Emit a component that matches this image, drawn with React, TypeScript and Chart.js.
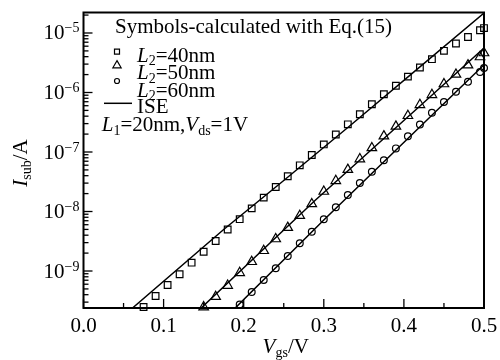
import React, { useEffect, useRef } from 'react';
import { Chart, registerables } from 'chart.js';

Chart.register(...registerables);

const SERIF = '"Liberation Serif", "Times New Roman", Times, serif';
const MAIN = 21;
const SMALL = 14;

// Symbols: L2 = 40 nm (squares)
const sqVgs = [0.075, 0.09, 0.105, 0.12, 0.135, 0.15, 0.165, 0.18, 0.195, 0.21, 0.225, 0.24, 0.255, 0.27, 0.285, 0.3, 0.315, 0.33, 0.345, 0.36, 0.375, 0.39, 0.405, 0.42, 0.435, 0.45, 0.465, 0.48, 0.495, 0.5];
const sqIsub = [2.48e-10, 3.8e-10, 5.82e-10, 8.81e-10, 1.38e-9, 2.11e-9, 3.19e-9, 4.98e-9, 7.43e-9, 1.13e-8, 1.71e-8, 2.58e-8, 3.91e-8, 5.97e-8, 8.91e-8, 1.34e-7, 1.97e-7, 2.92e-7, 4.31e-7, 6.34e-7, 9.33e-7, 1.3e-6, 1.85e-6, 2.63e-6, 3.63e-6, 5.02e-6, 6.67e-6, 8.57e-6, 1.11e-5, 1.21e-5];

// Symbols: L2 = 50 nm (triangles)
const triVgs = [0.15, 0.165, 0.18, 0.195, 0.21, 0.225, 0.24, 0.255, 0.27, 0.285, 0.3, 0.315, 0.33, 0.345, 0.36, 0.375, 0.39, 0.405, 0.42, 0.435, 0.45, 0.465, 0.48, 0.495, 0.5];
const triIsub = [2.48e-10, 3.7e-10, 5.7e-10, 9.33e-10, 1.43e-9, 2.19e-9, 3.45e-9, 5.35e-9, 8.5e-9, 1.34e-8, 2.17e-8, 3.28e-8, 5.06e-8, 7.62e-8, 1.17e-7, 1.85e-7, 2.7e-7, 4.07e-7, 6.21e-7, 9.14e-7, 1.39e-6, 2.01e-6, 2.88e-6, 3.95e-6, 4.61e-6];

// Symbols: L2 = 60 nm (circles)
const cirVgs = [0.195, 0.21, 0.225, 0.24, 0.255, 0.27, 0.285, 0.3, 0.315, 0.33, 0.345, 0.36, 0.375, 0.39, 0.405, 0.42, 0.435, 0.45, 0.465, 0.48, 0.495, 0.5];
const cirIsub = [2.74e-10, 4.44e-10, 7.06e-10, 1.11e-9, 1.79e-9, 2.92e-9, 4.58e-9, 7.4e-9, 1.18e-8, 1.89e-8, 3.01e-8, 4.67e-8, 7.26e-8, 1.15e-7, 1.84e-7, 2.9e-7, 4.58e-7, 6.92e-7, 1.03e-6, 1.51e-6, 2.21e-6, 2.58e-6];

// ISE simulation lines
const ise40Vgs = [0.0612, 0.175, 0.25, 0.333, 0.42, 0.5];
const ise40Isub = [2.39e-10, 4.98e-9, 3.32e-8, 2.79e-7, 2.69e-6, 2.17e-5];
const ise50Vgs = [0.1465, 0.289, 0.4242, 0.5];
const ise50Isub = [2.36e-10, 1.53e-8, 6.67e-7, 5.6e-6];
const ise60Vgs = [0.189, 0.3, 0.5];
const ise60Isub = [2.36e-10, 7.2e-9, 2.93e-6];

const xTickValues = [0, 0.1, 0.2, 0.3, 0.4, 0.5];
const xTickLabels = ['0.0', '0.1', '0.2', '0.3', '0.4', '0.5'];
const yDecades = [-9, -8, -7, -6, -5];
const legendLengths = ['40nm', '50nm', '60nm'];
const X_MIN = 0;
const X_MAX = 0.5;
const Y_MIN = 2.39e-10;
const Y_MAX = 2.21e-5;

type Seg = { t: string; i?: boolean; sub?: boolean; sup?: boolean };

function fontOf(s: Seg) {
  const size = s.sub || s.sup ? SMALL : MAIN;
  return `${s.i ? 'italic ' : ''}${size}px ${SERIF}`;
}
function richWidth(ctx: CanvasRenderingContext2D, segs: Seg[]) {
  let w = 0;
  for (const s of segs) {
    ctx.font = fontOf(s);
    w += ctx.measureText(s.t).width;
  }
  return w;
}
function drawRich(ctx: CanvasRenderingContext2D, segs: Seg[], x: number, y: number) {
  let cx = x;
  for (const s of segs) {
    ctx.font = fontOf(s);
    const dy = s.sub ? 3.5 : s.sup ? -7 : 0;
    ctx.fillText(s.t, cx, y + dy);
    cx += ctx.measureText(s.t).width;
  }
}
function marker(ctx: CanvasRenderingContext2D, style: string, x: number, y: number, r: number) {
  ctx.beginPath();
  if (style === 'rect') {
    ctx.rect(x - r, y - r, 2 * r, 2 * r);
  } else if (style === 'triangle') {
    ctx.moveTo(x, y - r);
    ctx.lineTo(x + r * 0.866, y + r / 2);
    ctx.lineTo(x - r * 0.866, y + r / 2);
    ctx.closePath();
  } else {
    ctx.arc(x, y, r, 0, Math.PI * 2);
  }
  ctx.stroke();
}

const decorPlugin = {
  id: 'decor',
  afterDraw(chart: any) {
    const ctx: CanvasRenderingContext2D = chart.ctx;
    const a = chart.chartArea;
    const xs = chart.scales.x;
    const ys = chart.scales.y;
    ctx.save();
    ctx.strokeStyle = '#000';
    ctx.fillStyle = '#000';
    ctx.textBaseline = 'alphabetic';
    ctx.textAlign = 'left';

    // frame
    ctx.lineWidth = 2;
    ctx.strokeRect(a.left, a.top, a.right - a.left, a.bottom - a.top);

    // x ticks (inward)
    ctx.lineWidth = 1.3;
    for (let k = 0; k <= 10; k++) {
      const px = xs.getPixelForValue(k / 20);
      const len = k % 2 === 0 ? 9 : 5;
      ctx.beginPath();
      ctx.moveTo(px, a.bottom);
      ctx.lineTo(px, a.bottom - len);
      ctx.stroke();
    }
    // y ticks (inward, log minor)
    for (let d = -10; d <= -5; d++) {
      for (let m = 1; m <= 9; m++) {
        const val = m * Math.pow(10, d);
        if (val < Y_MIN || val > Y_MAX) continue;
        const py = ys.getPixelForValue(val);
        const len = m === 1 ? 9 : 5;
        ctx.beginPath();
        ctx.moveTo(a.left, py);
        ctx.lineTo(a.left + len, py);
        ctx.stroke();
      }
    }

    // x tick labels
    xTickValues.forEach((v, i) => {
      const px = xs.getPixelForValue(v);
      const segs: Seg[] = [{ t: xTickLabels[i] }];
      const w = richWidth(ctx, segs);
      drawRich(ctx, segs, px - w / 2, a.bottom + 24);
    });
    // y tick labels
    yDecades.forEach((d) => {
      const py = ys.getPixelForValue(Math.pow(10, d));
      const segs: Seg[] = [{ t: '10' }, { t: '\u2212' + Math.abs(d), sup: true }];
      const w = richWidth(ctx, segs);
      drawRich(ctx, segs, a.left - 4 - w, py + 6.5);
    });

    // x axis title
    const xt: Seg[] = [{ t: 'V', i: true }, { t: 'gs', sub: true }, { t: '/V' }];
    const xw = richWidth(ctx, xt);
    drawRich(ctx, xt, (a.left + a.right) / 2 + 2 - xw / 2, 353);

    // y axis title
    const yt: Seg[] = [{ t: 'I', i: true }, { t: 'sub', sub: true }, { t: '/A' }];
    const yw = richWidth(ctx, yt);
    ctx.save();
    ctx.translate(27, 163);
    ctx.rotate(-Math.PI / 2);
    drawRich(ctx, yt, -yw / 2, 0);
    ctx.restore();

    // legend
    drawRich(ctx, [{ t: 'Symbols-calculated with Eq.(15)' }], 115, 33);
    const rowBase = [61.7, 79.3, 96.7];
    const styles = ['rect', 'triangle', 'circle'];
    const mY = [51.7, 65.4, 81];
    const mR = [2.5, 4.8, 2.5];
    ctx.lineWidth = 1.2;
    legendLengths.forEach((len, i) => {
      marker(ctx, styles[i], 117, mY[i], mR[i]);
      drawRich(ctx, [{ t: 'L', i: true }, { t: '2', sub: true }, { t: '=' + len }], 137, rowBase[i]);
    });
    ctx.lineWidth = 1.5;
    ctx.beginPath();
    ctx.moveTo(104, 103.3);
    ctx.lineTo(132, 103.3);
    ctx.stroke();
    drawRich(ctx, [{ t: 'ISE' }], 137, 113.3);
    drawRich(ctx, [
      { t: 'L', i: true }, { t: '1', sub: true }, { t: '=20nm,' },
      { t: 'V', i: true }, { t: 'ds', sub: true }, { t: '=1V' },
    ], 101.7, 131);
    ctx.restore();
  },
};

function zip(xs: number[], ys: number[]) {
  return xs.map((x, i) => ({ x, y: ys[i] }));
}

export default function App() {
  const ref = useRef<HTMLCanvasElement | null>(null);
  useEffect(() => {
    if (!ref.current) return;
    const lineDs = (label: string, xs: number[], ys: number[]) => ({
      label,
      data: zip(xs, ys),
      showLine: true,
      borderColor: '#000',
      borderWidth: 1.5,
      pointRadius: 0,
      tension: 0,
      fill: false,
    });
    const symDs = (label: string, xs: number[], ys: number[], style: string, r: number) => ({
      label,
      data: zip(xs, ys),
      showLine: false,
      pointStyle: style,
      pointRadius: r,
      pointBorderColor: '#000',
      pointBackgroundColor: 'rgba(0,0,0,0)',
      pointBorderWidth: 1.2,
      borderColor: '#000',
      backgroundColor: 'rgba(0,0,0,0)',
      borderWidth: 1.2,
      clip: false,
    });
    const chart = new Chart(ref.current, {
      type: 'scatter',
      data: {
        datasets: [
          lineDs('ISE 40', ise40Vgs, ise40Isub),
          lineDs('ISE 50', ise50Vgs, ise50Isub),
          lineDs('ISE 60', ise60Vgs, ise60Isub),
          symDs('L2=40nm', sqVgs, sqIsub, 'rect', 4.7),
          symDs('L2=50nm', triVgs, triIsub, 'triangle', 5.5),
          symDs('L2=60nm', cirVgs, cirIsub, 'circle', 3.4),
        ] as any,
      },
      options: {
        responsive: false,
        animation: false,
        events: [],
        layout: { padding: { left: 0, right: 16, top: 12.5, bottom: 0 } },
        plugins: { legend: { display: false }, tooltip: { enabled: false } },
        scales: {
          x: {
            type: 'linear',
            min: X_MIN,
            max: X_MAX,
            ticks: { display: false },
            grid: { display: false },
            border: { display: false },
            afterFit: (s: any) => { s.height = 52; },
          },
          y: {
            type: 'logarithmic',
            min: Y_MIN,
            max: Y_MAX,
            ticks: { display: false },
            grid: { display: false },
            border: { display: false },
            afterFit: (s: any) => { s.width = 83.5; },
          },
        },
      } as any,
      plugins: [decorPlugin],
    });
    return () => chart.destroy();
  }, []);
  return (
    <div style={{ position: 'fixed', left: 0, top: 0, width: 500, height: 360, background: '#fff' }}>
      <canvas ref={ref} width={500} height={360} style={{ display: 'block' }} />
    </div>
  );
}
